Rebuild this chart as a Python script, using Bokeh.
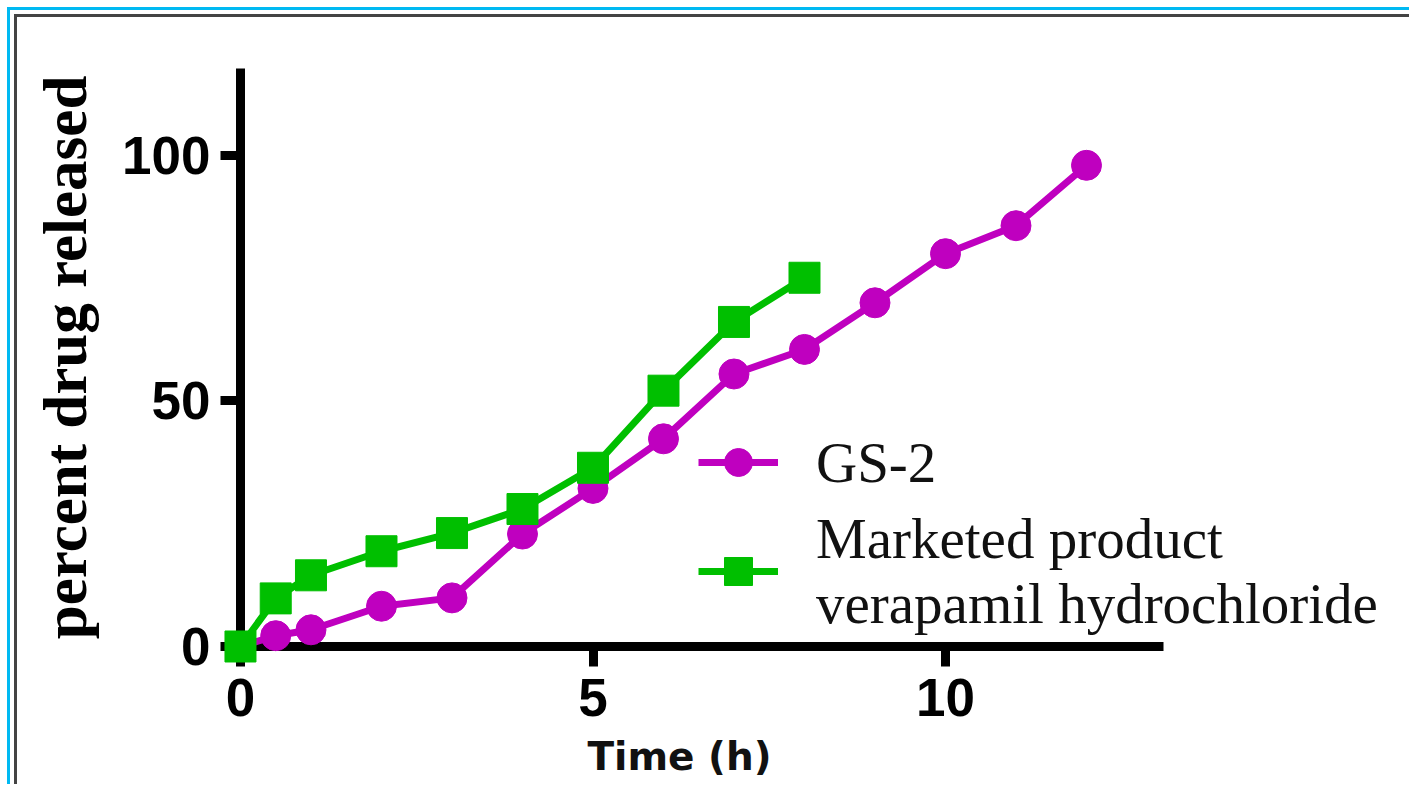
from bokeh.plotting import figure
from bokeh.models import Range1d, FixedTicker, Legend, LegendItem
from bokeh.layouts import column
from bokeh.embed import file_html
from bokeh.resources import INLINE

# ---- data ----
time_gs2 = [0, 0.5, 1, 2, 3, 4, 5, 6, 7, 8, 9, 10, 11, 12]
release_gs2 = [0, 2.2, 3.4, 8.2, 9.9, 22.9, 32.2, 42.3, 55.5, 60.5, 70.0, 80.0, 85.7, 98.0]
time_mkt = [0, 0.5, 1, 2, 3, 4, 5, 6, 7, 8]
release_mkt = [0, 9.8, 14.5, 19.4, 23.1, 28.0, 36.4, 52.1, 66.1, 75.1]
x_ticks = [0, 5, 10]
y_ticks = [0, 50, 100]
series_labels = ["GS-2", "Marketed product\nverapamil hydrochloride"]
x_title = "Time (h)"
y_title = "percent drug released"

MAGENTA = "#BF00BF"
GREEN = "#00BF00"
W, H = 1409, 784
X_AXIS_END, Y_AXIS_END = 13.09, 117.7


def style_axis(ax):
    ax.axis_line_width = 9
    ax.axis_line_color = "black"
    ax.major_tick_line_width = 9
    ax.major_tick_line_color = "black"
    ax.major_tick_in = 0
    ax.major_tick_out = 20
    ax.minor_tick_line_color = None
    ax.major_label_text_font = "Liberation Sans"
    ax.major_label_text_font_style = "bold"
    ax.major_label_text_font_size = "53px"
    ax.major_label_text_color = "black"


def blank(fig):
    fig.frame_align = False
    fig.outline_line_color = None
    fig.grid.visible = False


# ---- layer 1: x axis (frame centred on the axis title) ----
px = figure(width=W, height=H, output_backend="svg", toolbar_location=None,
            x_range=Range1d(-0.667, 13.12), y_range=Range1d(0, Y_AXIS_END),
            y_axis_location=None,
            min_border_left=193, min_border_right=W - 1165, min_border_top=68,
            min_border_bottom=H - 646, background_fill_alpha=0, border_fill_alpha=0)
blank(px)
xa = px.xaxis[0]
style_axis(xa)
xa.ticker = FixedTicker(ticks=x_ticks)
xa.bounds = (0, X_AXIS_END)
xa.major_label_standoff = 12
xa.axis_label = x_title
xa.axis_label_text_font = "DejaVu Sans"
xa.axis_label_text_font_style = "bold"
xa.axis_label_text_font_size = "39px"
xa.axis_label_text_color = "#111111"
xa.axis_label_standoff = 15
px.styles = {
    "background-image": "linear-gradient(#00B9F2,#00B9F2), linear-gradient(#00B9F2,#00B9F2), "
                        "linear-gradient(#444444,#444444), linear-gradient(#444444,#444444)",
    "background-size": "3px 100%, 100% 3px, 3px 100%, 100% 3px",
    "background-position": "7px 7px, 7px 7px, 14px 14px, 14px 14px",
    "background-repeat": "no-repeat",
}

# ---- layer 2: y axis (frame starts at x = 0) ----
py = figure(width=W, height=H, output_backend="svg", toolbar_location=None,
            x_range=Range1d(0, 13.12), y_range=Range1d(0, Y_AXIS_END),
            x_axis_location=None,
            min_border_left=240, min_border_right=W - 1165, min_border_top=68,
            min_border_bottom=H - 646, background_fill_alpha=0, border_fill_alpha=0)
blank(py)
ya = py.yaxis[0]
style_axis(ya)
ya.ticker = FixedTicker(ticks=y_ticks)
ya.bounds = (0, Y_AXIS_END)
ya.major_label_standoff = 10
ya.axis_label = y_title
ya.axis_label_text_font = "Liberation Serif"
ya.axis_label_text_font_style = "bold"
ya.axis_label_text_font_size = "61px"
ya.axis_label_text_color = "black"
ya.axis_label_standoff = 20
py.margin = (-H, 0, 0, 0)

# ---- layer 3: data, same scale, larger frame so markers are not cut ----
pd_ = figure(width=W, height=H, output_backend="svg", toolbar_location=None,
             x_range=Range1d(-0.326, 16.454), y_range=Range1d(-3.87, 123.42),
             x_axis_location=None, y_axis_location=None,
             min_border_left=217, min_border_right=W - 1400, min_border_top=40,
             min_border_bottom=H - 665, background_fill_alpha=0, border_fill_alpha=0)
blank(pd_)

l1 = pd_.line(time_gs2, release_gs2, line_color=MAGENTA, line_width=7)
s1 = pd_.scatter(time_gs2, release_gs2, marker="circle", size=30,
                 fill_color=MAGENTA, line_color=MAGENTA)
l2 = pd_.line(time_mkt, release_mkt, line_color=GREEN, line_width=7)
s2 = pd_.scatter(time_mkt, release_mkt, marker="square", size=31,
                 fill_color=GREEN, line_color=GREEN)

legend = Legend(items=[LegendItem(label=series_labels[0], renderers=[l1, s1]),
                       LegendItem(label=series_labels[1], renderers=[l2, s2])],
                location=(481, 29), border_line_color=None, background_fill_alpha=0,
                padding=0, margin=0, spacing=9, glyph_width=80, glyph_height=70,
                label_standoff=38, label_text_font="Liberation Serif",
                label_text_font_size="57px", label_text_line_height=1.04,
                label_text_color="#111111")
pd_.add_layout(legend)
pd_.margin = (-H, 0, 0, 0)

layout = column(px, py, pd_)
open("out.html", "w").write(file_html(layout, INLINE))
